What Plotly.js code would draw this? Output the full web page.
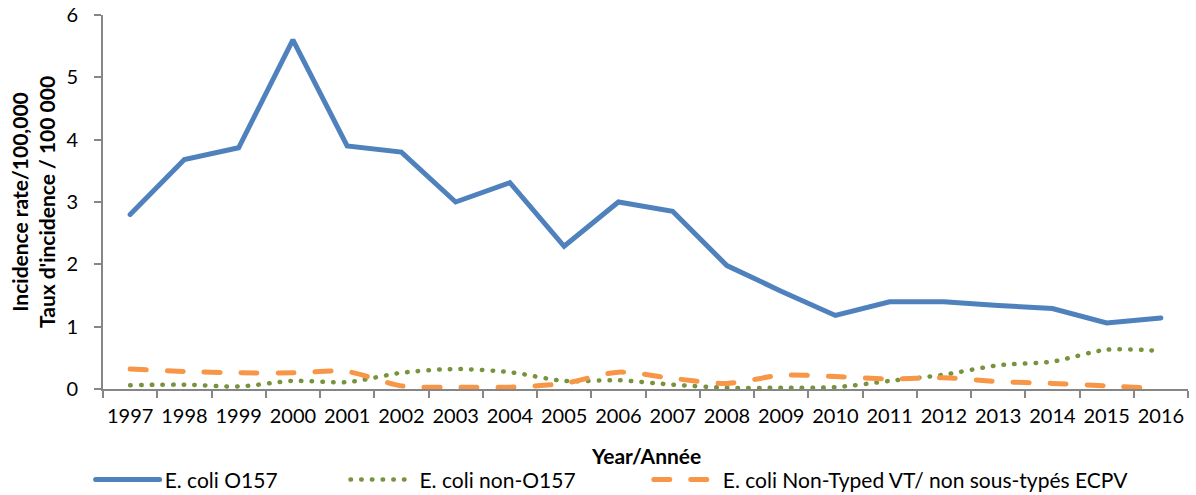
<!DOCTYPE html>
<html><head><meta charset="utf-8">
<script src="https://cdn.plot.ly/plotly-3.0.1.min.js"></script>
<style>
html,body{margin:0;padding:0;background:#fff}
#chart{width:1196px;height:495px}
path.js-line{stroke-linecap:round}
</style>
</head><body><div id="chart"></div>
<script>
const years = ['1997','1998','1999','2000','2001','2002','2003','2004','2005','2006','2007','2008','2009','2010','2011','2012','2013','2014','2015','2016'];
const o157 = [2.8,3.68,3.87,5.6,3.9,3.8,3.0,3.31,2.29,3.0,2.85,1.98,1.57,1.18,1.4,1.4,1.34,1.29,1.06,1.14];
const nonO157 = [0.06,0.07,0.04,0.13,0.11,0.26,0.32,0.27,0.13,0.14,0.07,0.02,0.02,0.03,0.13,0.23,0.38,0.44,0.63,0.61];
const nonTyped = [0.32,0.28,0.26,0.26,0.28,0.05,0.03,0.03,0.09,0.27,0.17,0.09,0.22,0.2,0.16,0.18,0.12,0.09,0.05,0.01];
const seriesNames = ['E. coli O157','E. coli non-O157','E. coli Non-Typed VT/ non sous-typés ECPV'];
const xTitle = 'Year/Année';
const yTitleLines = ['Incidence rate/100,000', 'Taux d\'incidence / 100 000'];
const FONT = 'Lato, "Open Sans", sans-serif';
const FS = 20;
const traces = [
  {x: years, y: o157, name: seriesNames[0], type: 'scatter', mode: 'lines', legend: 'legend',
   line: {color: '#4F81BD', width: 5}},
  {x: years, y: nonO157, name: seriesNames[1], type: 'scatter', mode: 'lines', legend: 'legend2',
   line: {color: '#77933C', width: 4.5, dash: '0.5px,10.2px', shape: 'spline', smoothing: 0.8}},
  {x: years, y: nonTyped, name: seriesNames[2], type: 'scatter', mode: 'lines', legend: 'legend3',
   line: {color: '#F79646', width: 5, dash: '16px,21px', shape: 'spline', smoothing: 0.8}}
];
const legBase = {orientation: 'h', xanchor: 'left', y: -0.243, yanchor: 'middle',
  font: {family: FONT, size: 21, color: '#000'}, itemwidth: 64, bgcolor: 'rgba(0,0,0,0)', borderwidth: 0};
const layout = {
  width: 1196, height: 495,
  margin: {l: 103, r: 8, t: 15, b: 106, autoexpand: false},
  paper_bgcolor: '#fff', plot_bgcolor: '#fff',
  font: {family: FONT, size: FS, color: '#000'},
  showlegend: true,
  legend: Object.assign({}, legBase, {x: -0.0114}),
  legend2: Object.assign({}, legBase, {x: 0.2235}),
  legend3: Object.assign({}, legBase, {x: 0.503}),
  xaxis: {type: 'category', range: [-0.5, 19.5], showgrid: false, zeroline: false,
    showline: true, linecolor: '#868686', linewidth: 2,
    ticks: 'outside', tickson: 'boundaries', ticklen: 7, tickcolor: '#868686', tickwidth: 2,
    tickangle: 0, ticklabelstandoff: 8,
    tickfont: {family: FONT, size: FS, color: '#000'}, automargin: false},
  yaxis: {range: [0, 6], dtick: 1, showgrid: false, zeroline: false,
    showline: true, linecolor: '#868686', linewidth: 2,
    ticks: 'outside', ticklen: 7, tickcolor: '#868686', tickwidth: 2,
    ticklabelstandoff: 12,
    tickfont: {family: FONT, size: FS, color: '#000'}, automargin: false},
  annotations: [
    {text: '<b>' + xTitle + '</b>', xref: 'paper', yref: 'paper', x: 0.5, y: -0.177,
     xanchor: 'center', yanchor: 'middle', showarrow: false, font: {family: FONT, size: 21, color: '#000'}},
    {text: '<b>' + yTitleLines.join('<br>') + '</b>', xref: 'paper', yref: 'paper', x: -0.0645, y: 0.5,
     xanchor: 'center', yanchor: 'middle', textangle: -90, showarrow: false,
     font: {family: FONT, size: 21, color: '#000'}}
  ]
};
Plotly.newPlot('chart', traces, layout, {displayModeBar: false, responsive: false});
</script></body></html>
